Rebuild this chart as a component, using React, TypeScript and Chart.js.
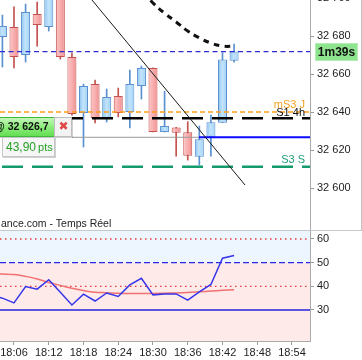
import React, { useEffect, useRef } from 'react';
import { Chart, registerables } from 'chart.js';

Chart.register(...registerables);

// ---------- data (minutes after 18:00) ----------
const candleTimes = [4, 6, 8, 10, 12, 14, 16, 18, 20, 22, 24, 26, 28, 30, 32, 34, 36, 38, 40, 42, 44];
const opens = [32679.5, 32684.7, 32670.0, 32691.6, 32684.7, 32706.8, 32668.9, 32639.5, 32654.7, 32636.8, 32648.4, 32640.0, 32653.7, 32663.2, 32629.5, 32631.9, 32629.3, 32616.5, 32627.0, 32634.4, 32667.0];
const highs = [32691.0, 32695.3, 32696.8, 32697.9, 32705.0, 32709.0, 32671.0, 32654.7, 32656.8, 32652.1, 32652.6, 32662.1, 32664.2, 32663.2, 32651.0, 32631.9, 32634.9, 32632.6, 32638.4, 32671.2, 32675.8];
const lows = [32663.7, 32663.2, 32666.3, 32674.7, 32682.6, 32667.9, 32638.4, 32621.6, 32634.2, 32634.7, 32637.4, 32631.6, 32646.8, 32629.5, 32629.5, 32616.8, 32614.7, 32612.1, 32616.8, 32634.4, 32666.2];
const closes = [32685.3, 32668.9, 32692.6, 32685.8, 32701.6, 32668.9, 32639.0, 32653.7, 32636.8, 32647.9, 32639.5, 32654.7, 32663.2, 32629.5, 32632.6, 32629.1, 32617.0, 32625.6, 32634.6, 32667.7, 32671.8];

const maTimes = [26, 28, 30, 32, 34, 36, 38, 40, 42, 44];
const maValues = [32712.0, 32704.0, 32697.4, 32692.0, 32687.4, 32682.6, 32679.0, 32676.3, 32674.7, 32674.6];

const trendTimes = [18.5, 45.885];
const trendValues = [32702.5, 32601.6];

const levelNames = ['mS3 J', 'S1 4h', 'S3 S'];
const levelPrices = [32640.0, 32636.7, 32611.2];

const currentPrice = 32671.8;
const countdown = '1m39s';
const orderPrice = 32626.7;
const orderLabel = '@ 32 626,7';
const orderPoints = '43,90';
const orderSplit = 37.943; // minute where the order line turns blue

const priceTicks = [32600, 32620, 32640, 32660, 32680, 32700];
const timeTicks = [6, 12, 18, 24, 30, 36, 42, 48, 54];
const rsiTicks = [30, 40, 50, 60];

const rsiTimes = [2, 4, 6, 8, 10, 12, 14, 16, 18, 20, 22, 24, 26, 28, 30, 32, 34, 36, 38, 40, 42, 44];
const rsiValues = [36.5, 35.0, 33.0, 39.9, 38.8, 42.8, 37.5, 32.1, 36.7, 33.8, 37.2, 35.7, 40.6, 43.4, 36.4, 36.8, 36.8, 34.2, 37.7, 40.8, 51.9, 53.0];
const signalValues = [45.4, 45.2, 45.0, 44.2, 43.1, 41.6, 40.4, 39.2, 38.2, 37.5, 37.3, 37.1, 37.0, 37.0, 37.0, 37.1, 37.2, 37.4, 37.7, 38.0, 38.3, 38.6];

const sourceText = 'ance.com - Temps Réel';

// ---------- ranges ----------
const X_MIN = 3.583;
const X_MAX = 57.108;
const LEVEL_START = 3.928;
const Y_MIN = 32577.9;
const Y_MAX = 32698.95;
const RSI_MIN = 16.9;
const RSI_MAX = 63.8;

const FONT = '"Liberation Sans", Arial, sans-serif';
const levelColors = ['#f5a023', '#111111', '#1f9e7a'];

const fmtPrice = (v: number) => String(v).replace(/\B(?=(\d{3})+(?!\d))/g, ' ');
const fmtTime = (v: number) => '18:' + String(v).padStart(2, '0');
const hline = (v: number, a = X_MIN, b = X_MAX) => [{ x: a, y: v }, { x: b, y: v }];
const isUp = (i: number) => closes[i] >= opens[i];

const mainOverlay = {
  id: 'mainOverlay',
  afterDraw(chart: any) {
    const { ctx } = chart;
    const x = chart.scales.x;
    const y = chart.scales.y;
    ctx.save();

    // right frame edge
    ctx.strokeStyle = '#c4c4c4';
    ctx.lineWidth = 1;
    ctx.beginPath();
    ctx.moveTo(chart.width - 0.5, 0);
    ctx.lineTo(chart.width - 0.5, chart.chartArea.bottom);
    ctx.stroke();

    // level labels
    ctx.font = `11px ${FONT}`;
    ctx.textAlign = 'right';
    ctx.textBaseline = 'middle';
    const lift = [7, 5, 6.5];
    levelNames.forEach((n, i) => {
      ctx.fillStyle = levelColors[i];
      ctx.fillText(n, x.right - 5, y.getPixelForValue(levelPrices[i]) - lift[i]);
    });

    // countdown box on the axis
    const cy = Math.round(y.getPixelForValue(currentPrice));
    const bx = x.right + 5;
    ctx.fillStyle = '#8fe48f';
    ctx.fillRect(bx, cy - 9, 43, 18);
    ctx.strokeStyle = '#b4ecb4';
    ctx.strokeRect(bx + 0.5, cy - 8.5, 42, 17);
    ctx.fillStyle = '#111';
    ctx.font = `bold 12px ${FONT}`;
    ctx.textAlign = 'center';
    ctx.fillText(countdown, bx + 21.5, cy + 0.5);

    // order boxes
    const oy = Math.round(y.getPixelForValue(orderPrice));
    ctx.fillStyle = 'rgba(0,0,0,0.18)';
    ctx.fillRect(-4, oy - 19, 77, 20);
    ctx.fillRect(3, oy + 1, 53, 20);
    const g = ctx.createLinearGradient(0, oy - 20, 0, oy);
    g.addColorStop(0, '#c9f8c0');
    g.addColorStop(0.5, '#8cec7c');
    g.addColorStop(1, '#62dc50');
    ctx.fillStyle = g;
    ctx.fillRect(-5, oy - 20, 60, 20);
    ctx.strokeStyle = '#3fb83b';
    ctx.strokeRect(-4.5, oy - 19.5, 59, 19);
    ctx.fillStyle = '#f3f3f3';
    ctx.fillRect(55, oy - 20, 17, 20);
    ctx.strokeStyle = '#bdbdbd';
    ctx.strokeRect(54.5, oy - 19.5, 17, 19);
    ctx.fillStyle = '#e04646';
    ctx.font = '12px "DejaVu Sans", sans-serif';
    ctx.textAlign = 'center';
    ctx.fillText('\u2716', 63.5, oy - 10);
    ctx.fillStyle = '#f6f6f6';
    ctx.fillRect(2, oy, 53, 20);
    ctx.strokeStyle = '#c6c6c6';
    ctx.strokeRect(2.5, oy + 0.5, 52, 19);

    ctx.fillStyle = '#111';
    ctx.font = `bold 10.5px ${FONT}`;
    ctx.textAlign = 'right';
    ctx.fillText(orderLabel, 48.5, oy - 9.5);

    ctx.fillStyle = '#25a025';
    ctx.textAlign = 'left';
    ctx.font = `12px ${FONT}`;
    ctx.fillText(orderPoints, 6, oy + 10.5);
    const w = ctx.measureText(orderPoints).width;
    ctx.font = `11px ${FONT}`;
    ctx.fillText('pts', 6 + w + 2, oy + 11);

    // source text
    ctx.fillStyle = '#222';
    ctx.font = `10.5px ${FONT}`;
    ctx.textAlign = 'left';
    ctx.fillText(sourceText, 1, chart.chartArea.bottom - 6);

    ctx.restore();
  },
};

const rsiOverlay = {
  id: 'rsiOverlay',
  afterDraw(chart: any) {
    const { ctx } = chart;
    ctx.save();
    ctx.strokeStyle = '#c8c8c8';
    ctx.lineWidth = 1;
    ctx.beginPath();
    ctx.moveTo(0, 0.5);
    ctx.lineTo(chart.width, 0.5);
    ctx.stroke();
    ctx.restore();
  },
};

const bodyFill = (c: any) => {
  const i = c.dataIndex;
  const up = isUp(i);
  const ch = c.chart;
  const xs = ch.scales && ch.scales.x;
  if (!xs || !ch.chartArea) return up ? '#a8d4f5' : '#f5a5a5';
  const px = xs.getPixelForValue(candleTimes[i]);
  const g = ch.ctx.createLinearGradient(px - 4.5, 0, px + 4.5, 0);
  if (up) {
    g.addColorStop(0, '#86bfee');
    g.addColorStop(0.45, '#c3e4fb');
    g.addColorStop(1, '#a2d2f6');
  } else {
    g.addColorStop(0, '#fcc8c8');
    g.addColorStop(0.5, '#f8aeae');
    g.addColorStop(1, '#f09090');
  }
  return g;
};

const lineDs = (data: any[], color: string, width: number, dash: number[] = [], extra: any = {}) => ({
  type: 'line',
  data,
  borderColor: color,
  borderWidth: width,
  borderDash: dash,
  pointRadius: 0,
  fill: false,
  tension: 0,
  order: 0,
  ...extra,
});

function MainChart() {
  const ref = useRef<HTMLCanvasElement>(null);
  useEffect(() => {
    const canvas = ref.current!;
    const chart = new Chart(canvas, {
      type: 'bar',
      data: {
        datasets: [
          lineDs(trendTimes.map((t, i) => ({ x: t, y: trendValues[i] })), '#1a1a1a', 1),
          lineDs(maTimes.map((t, i) => ({ x: t, y: maValues[i] })), '#111', 3, [6, 5], { tension: 0.4 }),
          lineDs(hline(currentPrice), '#2c2cd2', 1.2, [5, 3.5]),
          lineDs(hline(levelPrices[0]), '#ff9d1a', 1.5, [5, 3]),
          lineDs(hline(levelPrices[1], LEVEL_START), '#000', 2.5, [21, 9]),
          lineDs(hline(levelPrices[2], LEVEL_START), '#159a6c', 2.5, [21, 9]),
          lineDs(hline(orderPrice, 16, orderSplit), '#9a9a9a', 1),
          lineDs(hline(orderPrice, orderSplit), '#0a0aff', 2),
          {
            type: 'bar',
            data: candleTimes.map((t, i) => ({ x: t, y: [opens[i], closes[i]] })),
            backgroundColor: bodyFill,
            borderColor: candleTimes.map((_, i) => (isUp(i) ? '#5a90cf' : '#c4524f')),
            borderWidth: 1,
            borderSkipped: false,
            barThickness: 9,
            grouped: false,
            inflateAmount: 0,
            order: 1,
          },
          {
            type: 'bar',
            data: candleTimes.map((t, i) => ({ x: t, y: [lows[i], highs[i]] })),
            backgroundColor: candleTimes.map((_, i) => (isUp(i) ? '#5a90cf' : '#c4524f')),
            borderWidth: 0,
            barThickness: 1,
            grouped: false,
            order: 2,
          },
        ] as any,
      },
      options: {
        responsive: false,
        animation: false,
        events: [],
        layout: { padding: 0 },
        plugins: { legend: { display: false }, tooltip: { enabled: false } },
        scales: {
          x: { type: 'linear', min: X_MIN, max: X_MAX, display: false, offset: false },
          y: {
            type: 'linear',
            position: 'right',
            min: Y_MIN,
            max: Y_MAX,
            offset: false,
            beginAtZero: false,
            afterBuildTicks: (s: any) => {
              s.ticks = priceTicks.map((v) => ({ value: v }));
            },
            afterFit: (s: any) => {
              s.width = 52;
              s.paddingTop = 0;
              s.paddingBottom = 0;
            },
            ticks: {
              callback: (v: any) => fmtPrice(Number(v)),
              color: '#1e1e1e',
              font: { family: FONT, size: 11 },
              padding: 3,
              autoSkip: false,
            },
            grid: { drawOnChartArea: false, drawTicks: true, tickLength: 4, color: '#9a9a9a' },
            border: { display: true, color: '#aaaaaa' },
          },
        },
      } as any,
      plugins: [mainOverlay],
    });
    return () => chart.destroy();
  }, []);
  return <canvas ref={ref} width={362} height={230} style={{ display: 'block', width: 362, height: 230 }} />;
}

function RsiChart() {
  const ref = useRef<HTMLCanvasElement>(null);
  useEffect(() => {
    const canvas = ref.current!;
    const chart = new Chart(canvas, {
      type: 'line',
      data: {
        datasets: [
          lineDs(hline(50), 'rgba(0,0,0,0)', 0, [], { fill: 'start', backgroundColor: '#ffeaea', order: 11 }),
          lineDs(hline(50), 'rgba(0,0,0,0)', 0, [], { fill: 'end', backgroundColor: '#edf5fe', order: 10 }),
          lineDs(hline(60), '#e83a3a', 1.3, [1.5, 3.5], { order: 5 }),
          lineDs(hline(40), '#e83a3a', 1.3, [1.5, 3.5], { order: 5 }),
          lineDs(hline(50), '#2a2ae6', 1.3, [6, 3], { order: 5 }),
          lineDs(hline(30), '#2323dd', 1.4, [], { order: 5 }),
          lineDs(rsiTimes.map((t, i) => ({ x: t, y: signalValues[i] })), 'rgba(240,100,100,0.9)', 1.5, [], { tension: 0.4, order: 2 }),
          lineDs(rsiTimes.map((t, i) => ({ x: t, y: rsiValues[i] })), '#3535ea', 1.5, [], { order: 1 }),
        ] as any,
      },
      options: {
        responsive: false,
        animation: false,
        events: [],
        layout: { padding: 0 },
        plugins: { legend: { display: false }, tooltip: { enabled: false } },
        scales: {
          x: {
            type: 'linear',
            min: X_MIN,
            max: X_MAX,
            offset: false,
            afterBuildTicks: (s: any) => {
              s.ticks = timeTicks.map((v) => ({ value: v }));
            },
            afterFit: (s: any) => {
              s.height = 19;
              s.paddingLeft = 0;
              s.paddingRight = 0;
            },
            ticks: {
              callback: (v: any) => fmtTime(Number(v)),
              color: '#1e1e1e',
              font: { family: FONT, size: 11 },
              padding: 1,
              maxRotation: 0,
              autoSkip: false,
            },
            grid: { drawOnChartArea: false, drawTicks: true, tickLength: 4, color: '#9a9a9a' },
            border: { display: true, color: '#aaaaaa' },
          },
          y: {
            type: 'linear',
            position: 'right',
            min: RSI_MIN,
            max: RSI_MAX,
            offset: false,
            afterBuildTicks: (s: any) => {
              s.ticks = rsiTicks.map((v) => ({ value: v }));
            },
            afterFit: (s: any) => {
              s.width = 52;
              s.paddingTop = 0;
              s.paddingBottom = 0;
            },
            ticks: {
              color: '#1e1e1e',
              font: { family: FONT, size: 11 },
              padding: 3,
              autoSkip: false,
            },
            grid: { drawOnChartArea: false, drawTicks: true, tickLength: 4, color: '#9a9a9a' },
            border: { display: true, color: '#aaaaaa' },
          },
        },
      } as any,
      plugins: [rsiOverlay],
    });
    return () => chart.destroy();
  }, []);
  return <canvas ref={ref} width={362} height={130} style={{ display: 'block', width: 362, height: 130 }} />;
}

export default function App() {
  return (
    <div style={{ position: 'absolute', left: 0, top: 0, width: 362, height: 360, background: '#fff' }}>
      <MainChart />
      <RsiChart />
    </div>
  );
}
